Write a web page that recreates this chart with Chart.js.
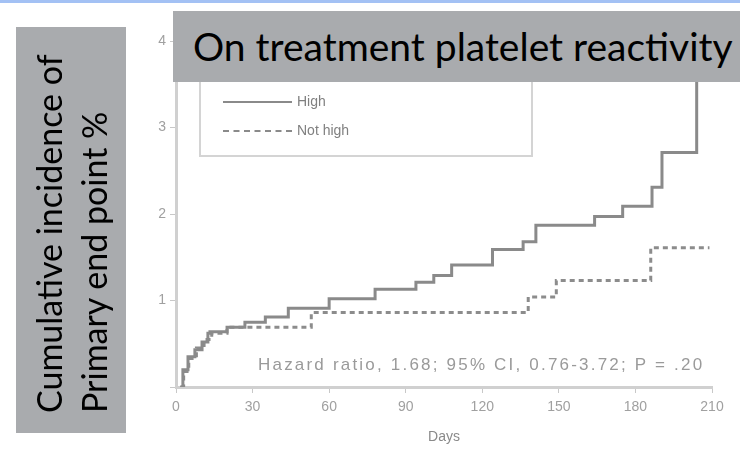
<!DOCTYPE html>
<html>
<head>
<meta charset="utf-8">
<script src="https://cdn.jsdelivr.net/npm/chart.js@4.4.0/dist/chart.umd.min.js"></script>
<style>
    body { margin: 0; width: 740px; height: 460px; position: relative; overflow: hidden; background: #fff; }
    #franja { position: absolute; left: 0; top: 0; width: 740px; height: 3px; background: #a3c1f4; }
    #grafico { position: absolute; left: 0; top: 0; }
    #leyenda { position: absolute; left: 199px; top: 60px; width: 330px; height: 93px; border: 2px solid #d4d4d4; }
    .item { position: absolute; left: 22px; height: 20px; font: 14px "Liberation Sans", sans-serif; color: #808080; }
    .muestra { position: absolute; left: 0; top: 9px; width: 69px; border-top: 2px solid #8a8a8a; }
    .item span { position: absolute; left: 74px; top: 1px; white-space: nowrap; }
    #hazard { position: absolute; left: 258px; top: 355px; font: 17px "Liberation Sans", sans-serif; letter-spacing: 2.2px; color: #9a9a9a; white-space: nowrap; }
    #titulo { position: absolute; left: 173px; top: 11px; width: 567px; height: 71px; background: #a9abae;
              font: 39px Lato, sans-serif; color: #000; line-height: 71px; padding-left: 20px; box-sizing: border-box; white-space: nowrap; overflow: hidden; }
    #ejeY { position: absolute; left: -132px; top: 175px; width: 406px; height: 110px; background: #a9abae;
            transform: rotate(-90deg); font: 34px Lato, sans-serif; color: #000; line-height: 45px;
            padding: 10px 0 0 20px; box-sizing: border-box; white-space: nowrap; }
</style>
</head>
<body>
<div id="franja"></div>
<canvas id="grafico" width="740" height="460"></canvas>
<div id="leyenda">
    <div class="item" style="top: 30px;"><div class="muestra"></div><span>High</span></div>
    <div class="item" style="top: 59px;"><div class="muestra" style="border-top-style: dashed;"></div><span>Not high</span></div>
</div>
<div id="hazard">Hazard ratio, 1.68; 95% CI, 0.76-3.72; P = .20</div>
<div id="titulo">On treatment platelet reactivity</div>
<div id="ejeY">Cumulative incidence of<br>Primary end point %</div>

<script>
// datos (dias, % acumulado)
const diasAlta = [1.6, 2.7, 4.7, 7.4, 10.2, 12.5, 13.3, 20, 27, 35, 44, 60, 78, 94, 101, 108, 124, 136, 141, 164, 175, 186.5, 190.4, 204];
const valoresAlta = [0, 0.20, 0.35, 0.43, 0.52, 0.62, 0.64, 0.69, 0.75, 0.81, 0.91, 1.02, 1.13, 1.21, 1.29, 1.41, 1.59, 1.68, 1.87, 1.97, 2.09, 2.31, 2.71, 4.0];

const diasNoAlta = [2, 3, 5, 8, 11, 14, 20, 53, 138, 149, 186, 209];
const valoresNoAlta = [0, 0.18, 0.33, 0.45, 0.55, 0.62, 0.69, 0.86, 1.04, 1.23, 1.61, 1.61];

const ticksX = [0, 30, 60, 90, 120, 150, 180, 210];
const ticksY = [0, 1, 2, 3, 4];

function armarPuntos(dias, valores) {
    return dias.map((d, i) => ({ x: d, y: valores[i] }));
}

window.onload = function () {
    const ctx = document.getElementById('grafico').getContext('2d');

    new Chart(ctx, {
        type: 'line',
        data: {
            datasets: [
                {
                    label: 'High',
                    data: armarPuntos(diasAlta, valoresAlta),
                    borderColor: '#8a8a8a',
                    borderWidth: 3,
                    stepped: true,
                    pointRadius: 0
                },
                {
                    label: 'Not high',
                    data: armarPuntos(diasNoAlta, valoresNoAlta),
                    borderColor: '#8c8c8c',
                    borderWidth: 3,
                    borderDash: [5, 4],
                    stepped: true,
                    pointRadius: 0
                }
            ]
        },
        options: {
            responsive: false,
            animation: false,
            layout: { padding: { left: 0, right: 28, top: 41, bottom: 0 } },
            plugins: {
                legend: { display: false },
                tooltip: { enabled: false }
            },
            scales: {
                x: {
                    type: 'linear',
                    min: 0,
                    max: 210,
                    afterBuildTicks: s => { s.ticks = ticksX.map(v => ({ value: v })); },
                    afterFit: s => { s.height = 73; },
                    ticks: { color: '#a0a0a0', font: { size: 14 }, padding: 6 },
                    grid: { drawOnChartArea: false, tickLength: 6, color: '#c8c8c8' },
                    border: { color: '#d0d0d0', width: 3 },
                    title: { display: true, text: 'Days', color: '#8a8a8a', font: { size: 14 }, padding: { top: 4, bottom: 14 } }
                },
                y: {
                    min: 0,
                    max: 4,
                    afterBuildTicks: s => { s.ticks = ticksY.map(v => ({ value: v })); },
                    afterFit: s => { s.width = 176; },
                    ticks: { color: '#a0a0a0', font: { size: 14 }, padding: 4, callback: v => v === 0 ? '' : v },
                    grid: { drawOnChartArea: false, tickLength: 6, color: '#c8c8c8' },
                    border: { color: '#d0d0d0', width: 3 }
                }
            }
        }
    });
};
</script>
</body>
</html>
